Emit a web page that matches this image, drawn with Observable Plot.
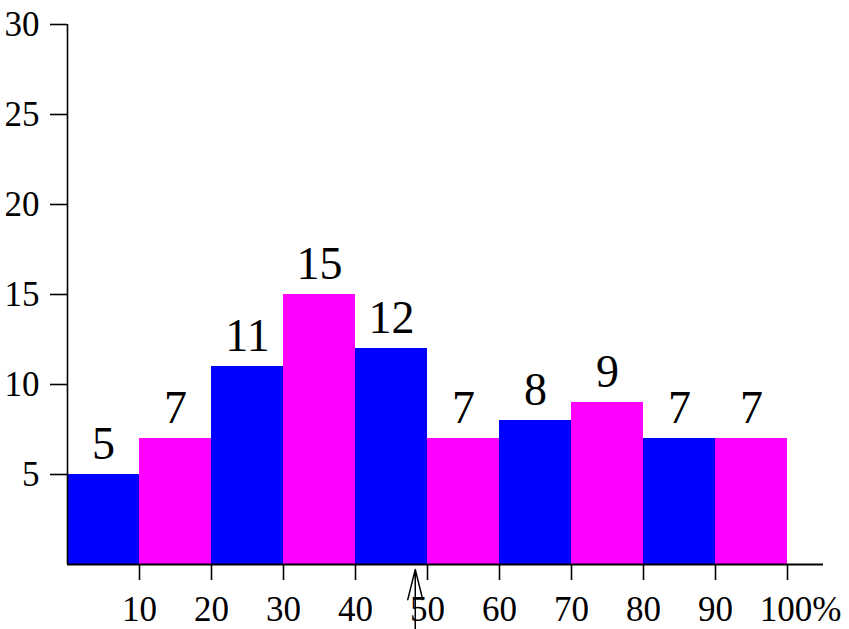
<!DOCTYPE html>
<html>
<head>
<meta charset="utf-8">
<script src="https://cdn.jsdelivr.net/npm/d3@7"></script>
<script src="https://cdn.jsdelivr.net/npm/@observablehq/plot@0.6"></script>
<style>
  html, body { margin: 0; padding: 0; background: white; overflow: hidden; }
  #chart { width: 849px; height: 629px; overflow: hidden; }
</style>
</head>
<body>
<div id="chart"></div>
<script>
const binStarts = [0, 10, 20, 30, 40, 50, 60, 70, 80, 90];
const binWidth = 10;
const counts = [5, 7, 11, 15, 12, 7, 8, 9, 7, 7];
const yTicks = [5, 10, 15, 20, 25, 30];
const xTicks = [10, 20, 30, 40, 50, 60, 70, 80, 90, 100];
const xTickLabels = ["10", "20", "30", "40", "50", "60", "70", "80", "90", "100%"];
const arrowAt = 48.3;

const bins = binStarts.map((x0, i) => ({x0, x1: x0 + binWidth, count: counts[i], i}));
const font = "Liberation Serif";

const chart = Plot.plot({
  width: 849,
  height: 629,
  marginLeft: 67,
  marginRight: 62,
  marginTop: 24,
  marginBottom: 65,
  x: {domain: [0, 100], label: null},
  y: {domain: [0, 30], label: null},
  style: {fontFamily: font, background: "white", overflow: "hidden"},
  marks: [
    Plot.rectY(bins, {
      x1: "x0", x2: "x1", y1: 0, y2: "count",
      fill: d => d.i % 2 ? "#ff00ff" : "#0000ff",
      inset: 0
    }),
    Plot.text(bins, {
      x: d => (d.x0 + d.x1) / 2, y: "count", text: d => String(d.count),
      dy: -16, lineAnchor: "bottom", fontSize: 46, fill: "black", fontFamily: font
    }),
    Plot.ruleX([0], {y1: 0, y2: 30, stroke: "black", strokeWidth: 1.6}),
    Plot.ruleY([0], {x1: 0, x2: 105, stroke: "black", strokeWidth: 1.8}),
    Plot.axisY(yTicks, {tickSize: 17, tickPadding: 11, fontSize: 35, strokeWidth: 1.6, label: null, fontFamily: font, tickFormat: d => String(d)}),
    Plot.axisX(xTicks, {tickSize: 16, tickPadding: 16, fontSize: 35, strokeWidth: 1.6, label: null, fontFamily: font,
      tickFormat: d => d === 100 ? "" : xTickLabels[xTicks.indexOf(d)]}),
    Plot.text(xTicks.filter(d => d === 100), {
      x: d => d, y: 0, text: d => xTickLabels[xTicks.indexOf(d)],
      dy: 32, dx: 13, lineAnchor: "top", fontSize: 35, fill: "black", fontFamily: font
    }),
    Plot.arrow([arrowAt], {
      x1: d => d, x2: d => d, y1: -6, y2: -0.28,
      stroke: "black", strokeWidth: 1.5, headLength: 31, headAngle: 28
    })
  ]
});
document.getElementById("chart").appendChild(chart);
</script>
</body>
</html>
